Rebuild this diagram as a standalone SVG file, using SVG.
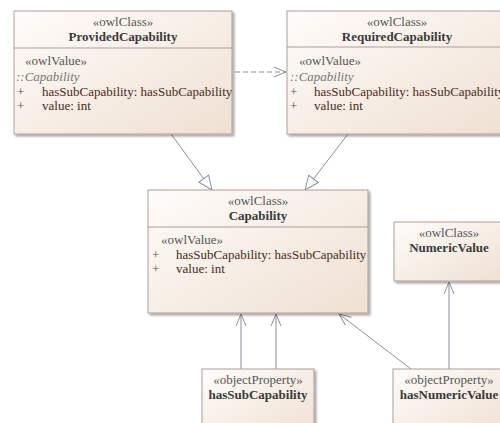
<svg xmlns="http://www.w3.org/2000/svg" width="500" height="423" viewBox="0 0 500 423">
  <defs>
    <linearGradient id="boxFill" x1="0" y1="0" x2="1" y2="1">
      <stop offset="0" stop-color="#fffcfa"/>
      <stop offset="1" stop-color="#efe0d2"/>
    </linearGradient>
    <filter id="shadow" x="-10%" y="-10%" width="130%" height="130%">
      <feGaussianBlur in="SourceAlpha" stdDeviation="1.2"/>
      <feOffset dx="2" dy="2" result="b"/>
      <feComponentTransfer><feFuncA type="linear" slope="0.35"/></feComponentTransfer>
      <feMerge><feMergeNode/><feMergeNode in="SourceGraphic"/></feMerge>
    </filter>
    <marker id="hollowTri" markerWidth="16" markerHeight="14" refX="15" refY="7" orient="auto" markerUnits="userSpaceOnUse">
      <path d="M1,1 L15,7 L1,13 Z" fill="#ffffff" stroke="#8a8f9c" stroke-width="1"/>
    </marker>
    <marker id="openArrow" markerWidth="14" markerHeight="12" refX="13" refY="6" orient="auto" markerUnits="userSpaceOnUse">
      <path d="M1,1 L13,6 L1,11" fill="none" stroke="#8a8f9c" stroke-width="1"/>
    </marker>
  </defs>
  <style>
    .box { fill: url(#boxFill); stroke: #a7a09c; stroke-width: 1; filter: url(#shadow); }
    .div { stroke: #a7a09c; stroke-width: 1; }
    text { font-family: "Liberation Serif", "Times New Roman", serif; font-size: 13px; }
    .st { fill: #555555; text-anchor: middle; }
    .nm { fill: #3a3a3a; font-weight: bold; text-anchor: middle; }
    .sv { fill: #555555; }
    .it { fill: #777777; font-style: italic; }
    .pl { fill: #555555; }
    .at { fill: #4a2a20; }
    .conn { stroke: #8a8f9c; stroke-width: 1; fill: none; }
  </style>
  <rect width="500" height="423" fill="#ffffff"/>

  <g id="connectors">
    <line class="conn" x1="235" y1="72" x2="286" y2="72" stroke-dasharray="5,3" marker-end="url(#openArrow)"/>
    <line class="conn" x1="171" y1="134" x2="212" y2="190" marker-end="url(#hollowTri)"/>
    <line class="conn" x1="348" y1="134" x2="305" y2="190" marker-end="url(#hollowTri)"/>
    <line class="conn" x1="241" y1="369" x2="241" y2="314" marker-end="url(#openArrow)"/>
    <line class="conn" x1="276" y1="369" x2="276" y2="314" marker-end="url(#openArrow)"/>
    <line class="conn" x1="411" y1="369" x2="339" y2="314" marker-end="url(#openArrow)"/>
    <line class="conn" x1="449" y1="369" x2="449" y2="282" marker-end="url(#openArrow)"/>
  </g>

  <g id="ProvidedCapability">
    <rect class="box" x="14" y="11" width="218" height="123"/>
    <line class="div" x1="14" y1="48" x2="232" y2="48"/>
    <text class="st" x="123" y="26">«owlClass»</text>
    <text class="nm" x="123" y="41">ProvidedCapability</text>
    <text class="sv" x="25" y="65">«owlValue»</text>
    <text class="it" x="16" y="81">::Capability</text>
    <text class="pl" x="17" y="96">+</text>
    <text class="at" x="42" y="96">hasSubCapability: hasSubCapability</text>
    <text class="pl" x="17" y="110">+</text>
    <text class="at" x="42" y="110">value: int</text>
  </g>

  <g id="RequiredCapability">
    <rect class="box" x="287" y="11" width="220" height="123"/>
    <line class="div" x1="287" y1="47" x2="507" y2="47"/>
    <text class="st" x="397" y="26">«owlClass»</text>
    <text class="nm" x="397" y="41">RequiredCapability</text>
    <text class="sv" x="299" y="65">«owlValue»</text>
    <text class="it" x="290" y="81">::Capability</text>
    <text class="pl" x="290" y="96">+</text>
    <text class="at" x="314" y="96">hasSubCapability: hasSubCapability</text>
    <text class="pl" x="290" y="110">+</text>
    <text class="at" x="314" y="110">value: int</text>
  </g>

  <g id="Capability">
    <rect class="box" x="148" y="190" width="220" height="123"/>
    <line class="div" x1="148" y1="227" x2="368" y2="227"/>
    <text class="st" x="258" y="205">«owlClass»</text>
    <text class="nm" x="258" y="220">Capability</text>
    <text class="sv" x="161" y="244">«owlValue»</text>
    <text class="pl" x="152" y="259">+</text>
    <text class="at" x="176" y="259">hasSubCapability: hasSubCapability</text>
    <text class="pl" x="152" y="273">+</text>
    <text class="at" x="176" y="273">value: int</text>
  </g>

  <g id="NumericValue">
    <rect class="box" x="394" y="222" width="110" height="59"/>
    <text class="st" x="449" y="237">«owlClass»</text>
    <text class="nm" x="449" y="252">NumericValue</text>
  </g>

  <g id="hasSubCapability">
    <rect class="box" x="202" y="369" width="112" height="70"/>
    <text class="st" x="258" y="384">«objectProperty»</text>
    <text class="nm" x="258" y="399">hasSubCapability</text>
  </g>

  <g id="hasNumericValue">
    <rect class="box" x="393" y="369" width="112" height="70"/>
    <text class="st" x="449" y="384">«objectProperty»</text>
    <text class="nm" x="449" y="399">hasNumericValue</text>
  </g>
</svg>
